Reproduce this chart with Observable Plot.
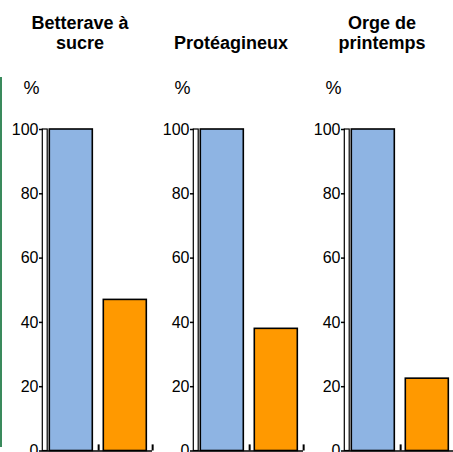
<!DOCTYPE html>
<html>
<head>
<meta charset="utf-8">
<script src="https://cdn.jsdelivr.net/npm/d3@7"></script>
<script src="https://cdn.jsdelivr.net/npm/@observablehq/plot@0.6"></script>
<style>
  html, body { margin: 0; padding: 0; background: #fff; overflow: hidden; }
  #wrap { position: relative; width: 453px; height: 452px; }
  #edge { position: absolute; left: 0; top: 77px; width: 2px; height: 370px; background: #3a8a5c; }
</style>
</head>
<body>
<div id="wrap"><div id="edge"></div></div>
<script>
const crops = ["Betterave à sucre", "Protéagineux", "Orge de printemps"];
const titles = ["Betterave à\nsucre", "Protéagineux", "Orge de\nprintemps"];
const seriesNames = ["Série 1", "Série 2"];
const blueValues = [100, 100, 100];
const orangeValues = [47, 38, 22.5];
const yTicks = [0, 20, 40, 60, 80, 100];
const seriesColors = ["#8eb4e3", "#ff9900"];

const data = crops.flatMap((c, i) => [
  {crop: c, series: seriesNames[0], value: blueValues[i]},
  {crop: c, series: seriesNames[1], value: orangeValues[i]}
]);
const titleData = crops.map((c, i) => ({crop: c, title: titles[i]}));

const facetW = 109.4;
const tickLen = 1.9; // separator tick length in y units
const font = "Arial, 'Liberation Sans', sans-serif";

const chart = Plot.plot({
  width: 453,
  height: 452,
  marginTop: 129,
  marginBottom: 1.5,
  marginLeft: 42.7,
  marginRight: -1.5,
  style: {fontFamily: font, color: "#000", background: "transparent", overflow: "visible"},
  fx: {domain: crops, range: [42.7, 454.5], paddingInner: 0.2765, paddingOuter: 0, axis: null, label: null},
  x: {domain: seriesNames, paddingInner: 0.2, paddingOuter: 0.1, axis: null, label: null},
  y: {domain: [0, 100], label: null},
  color: {domain: seriesNames, range: seriesColors},
  marks: [
    Plot.rectY(crops, {fx: d => d, y1: 0, y2: 100, fill: "white", stroke: "black", strokeWidth: 1.2, insetLeft: -0.7, insetRight: facetW - 4.6}),
    Plot.barY(data, {fx: "crop", x: "series", y: "value", fill: "series", stroke: "black", strokeWidth: 1.6}),
    Plot.ruleY([0], {stroke: "black", strokeWidth: 1.5}),
    Plot.ruleX(data, {fx: "crop", x: "series", y1: 0, y2: tickLen, dx: facetW / 4, stroke: "black", strokeWidth: 2}),
    Plot.axisY({ticks: yTicks, tickSize: 4, tickPadding: 1, fontSize: 16, strokeWidth: 1.5, facetAnchor: null, label: null}),
    Plot.text(titleData, {fx: "crop", text: "title", frameAnchor: "top", lineAnchor: "bottom", dx: -18, dy: -81, fontSize: 18, fontWeight: "bold", lineHeight: 1.1}),
    Plot.text(crops, {fx: d => d, text: () => "%", frameAnchor: "top-left", textAnchor: "middle", lineAnchor: "middle", dx: -12, dy: -41.5, fontSize: 18})
  ]
});
document.getElementById("wrap").prepend(chart);
</script>
</body>
</html>
